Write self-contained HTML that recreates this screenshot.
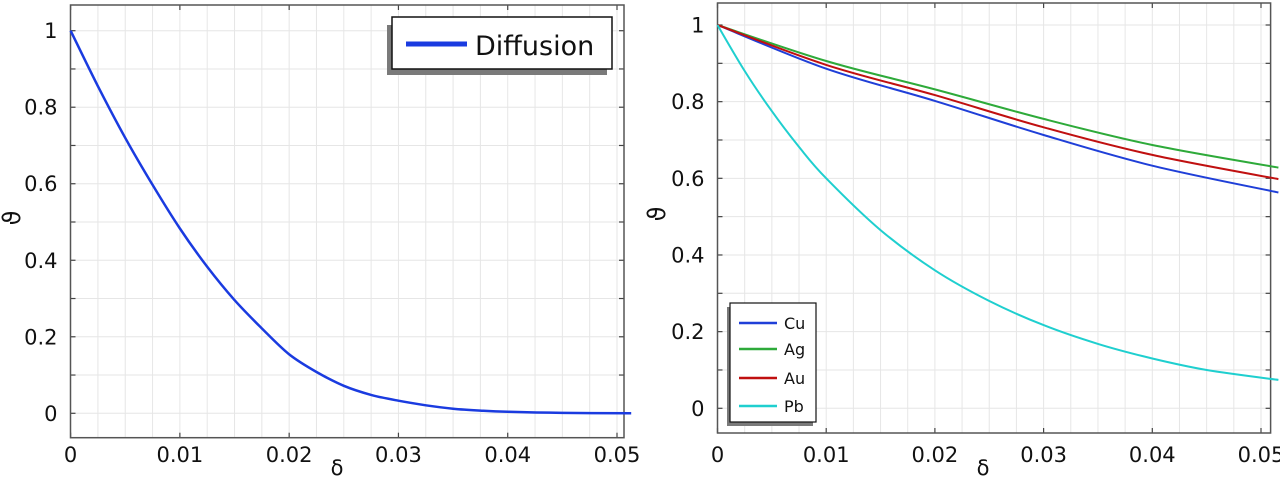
<!DOCTYPE html>
<html><head><meta charset="utf-8">
<style>
html,body{margin:0;padding:0;background:#fff;}
svg{display:block;font-family:"DejaVu Sans","Liberation Sans",sans-serif;}
</style></head>
<body>
<svg id="fig" width="1280" height="477" viewBox="0 0 1280 477" xmlns="http://www.w3.org/2000/svg"></svg>
<script>
// ---- Left chart data ----
const diffX = [0,0.0025,0.005,0.0075,0.01,0.0125,0.015,0.0175,0.02,0.0225,0.025,0.0275,0.03,0.0325,0.035,0.0375,0.04,0.045,0.0513];
const diffY = [1,0.855,0.72,0.597,0.483,0.383,0.296,0.222,0.154,0.108,0.072,0.048,0.033,0.021,0.012,0.007,0.004,0.001,0];
// ---- Right chart data ----
const matX = [0,0.01,0.02,0.03,0.04,0.0516];
const cuY = [1,0.886,0.802,0.713,0.633,0.563];
const agY = [1,0.906,0.832,0.755,0.687,0.628];
const auY = [1,0.896,0.817,0.733,0.661,0.598];
const pbX = [0,0.0025,0.005,0.0075,0.01,0.015,0.02,0.025,0.03,0.035,0.04,0.045,0.0516];
const pbY = [1,0.88,0.775,0.682,0.6,0.465,0.36,0.28,0.217,0.168,0.13,0.1,0.074];
const xTicks = [0,0.01,0.02,0.03,0.04,0.05];
const xTickLabels = ["0","0.01","0.02","0.03","0.04","0.05"];
const yTicks = [0,0.2,0.4,0.6,0.8,1];
const yTickLabels = ["0","0.2","0.4","0.6","0.8","1"];

const NS="http://www.w3.org/2000/svg";
const svg=document.getElementById('fig');
function mk(tag,attrs,parent){const e=document.createElementNS(NS,tag);for(const k in attrs)e.setAttribute(k,attrs[k]);(parent||svg).appendChild(e);return e;}
function smooth(pts){
  let d='M'+pts[0][0].toFixed(1)+' '+pts[0][1].toFixed(1);
  for(let i=0;i<pts.length-1;i++){
    const p0=pts[i-1]||pts[i],p1=pts[i],p2=pts[i+1],p3=pts[i+2]||p2;
    const c1=[p1[0]+(p2[0]-p0[0])/6,p1[1]+(p2[1]-p0[1])/6];
    const c2=[p2[0]-(p3[0]-p1[0])/6,p2[1]-(p3[1]-p1[1])/6];
    d+=' C'+c1[0].toFixed(1)+' '+c1[1].toFixed(1)+' '+c2[0].toFixed(1)+' '+c2[1].toFixed(1)+' '+p2[0].toFixed(1)+' '+p2[1].toFixed(1);
  }
  return d;
}

function chart(cfg){
  const g=mk('g',{});
  
  
  const L=cfg.L,R=cfg.R,T=cfg.T,B=cfg.B;
  const sx=v=>cfg.x0px+(v/0.05)*(cfg.x05px-cfg.x0px);
  const sy=v=>cfg.y0px-v*(cfg.y0px-cfg.y1px);
  const grid=mk('g',{},g);
  
  
  for(let i=1;i*0.0025<=cfg.xmax;i++){const x=sx(i*0.0025);mk('line',{x1:x,x2:x,y1:T,y2:B,stroke:'#e6e6e6','stroke-width':1},grid);}
  for(let i=0;i<=10;i++){const y=sy(i*0.1);mk('line',{x1:L,x2:R,y1:y,y2:y,stroke:'#e6e6e6','stroke-width':1},grid);}
  xTicks.forEach((t,i)=>{const x=sx(t);
    mk('line',{x1:x,x2:x,y1:B,y2:B-5,stroke:'#444','stroke-width':1.2},g);
    mk('line',{x1:x,x2:x,y1:T,y2:T+5,stroke:'#444','stroke-width':1.2},g);
    const tx=mk('text',{x:x,y:462,'font-size':21,'text-anchor':'middle',fill:'#111'},g);
    
    
    tx.textContent=xTickLabels[i];});
  for(let i=0;i<=10;i++){const y=sy(i*0.1);
    mk('line',{x1:L,x2:L+5,y1:y,y2:y,stroke:'#444','stroke-width':1.2},g);
    mk('line',{x1:R,x2:R-5,y1:y,y2:y,stroke:'#444','stroke-width':1.2},g);}
  yTicks.forEach((t,i)=>{const y=sy(t);
    const tx=mk('text',{x:L-13,y:y+7.5,'font-size':21,'text-anchor':'end',fill:'#111'},g);
    
    
    tx.textContent=yTickLabels[i];});
  const fr=mk('rect',{x:L,y:T,width:R-L,height:B-T,fill:'none',stroke:'#555','stroke-width':1.5},g);
  
  
  cfg.series.forEach(s=>{
    const d=smooth(s.x.map((v,i)=>[sx(v),sy(s.y[i])]));
    const p=mk('path',{d:d,fill:'none',stroke:s.color,'stroke-width':s.w,'stroke-linejoin':'round'},g);
    
    
  });
  const xl=mk('text',{x:cfg.xlabX,y:475,'font-size':21,'text-anchor':'middle',fill:'#111'},g);
  
  
  xl.textContent='δ';
  const yl=mk('text',{x:0,y:0,'font-size':24,'text-anchor':'middle',fill:'#111',transform:'translate('+cfg.ylabX+','+cfg.ylabY+') rotate(-90)'},g);
  
  
  yl.textContent='ϑ';
  return g;
}

chart({name:'diffusion-chart',L:70.5,R:624,T:5,B:437.7,x0px:70.6,x05px:617,y0px:413.3,y1px:30.7,xmax:0.0513,xlabX:337,ylabX:20,ylabY:218,
  series:[{x:diffX,y:diffY,color:'#1a3be0',w:2.5,label:'Diffusion'}]});
chart({name:'materials-chart',L:717.5,R:1270.6,T:3,B:433,x0px:717.5,x05px:1261,y0px:408.3,y1px:25,xmax:0.0516,xlabX:983,ylabX:665,ylabY:214,
  series:[{x:matX,y:cuY,color:'#1f3fd8',w:2,label:'Cu'},{x:matX,y:agY,color:'#2eaa3a',w:2,label:'Ag'},{x:matX,y:auY,color:'#c01010',w:2,label:'Au'},{x:pbX,y:pbY,color:'#1fcfcf',w:2,label:'Pb'}]});

(function(){
  const g=mk('g',{});
  
  
  mk('rect',{x:387,y:25,width:220,height:50,fill:'#7a7a7a'},g);
  mk('rect',{x:392,y:17,width:220,height:52,fill:'#fff',stroke:'#111','stroke-width':1.5},g);
  mk('line',{x1:406,x2:467,y1:44,y2:44,stroke:'#1a3be0','stroke-width':5},g);
  const t=mk('text',{x:475,y:55,'font-size':27,fill:'#111'},g);
  
  
  t.textContent='Diffusion';
})();
(function(){
  const names=['Cu','Ag','Au','Pb'], cols=['#1f3fd8','#2eaa3a','#c01010','#1fcfcf'], ys=[323,349,378,406];
  const g=mk('g',{});
  
  
  mk('rect',{x:727,y:307,width:86,height:119,fill:'#7a7a7a'},g);
  mk('rect',{x:730,y:303,width:86,height:119,fill:'#fff',stroke:'#111','stroke-width':1.2},g);
  names.forEach((n,i)=>{
    mk('line',{x1:739,x2:777,y1:ys[i],y2:ys[i],stroke:cols[i],'stroke-width':2.5},g);
    const t=mk('text',{x:784,y:ys[i]+6,'font-size':16,fill:'#111'},g);
    
    
    t.textContent=n;
  });
})();
</script>
</body></html>
